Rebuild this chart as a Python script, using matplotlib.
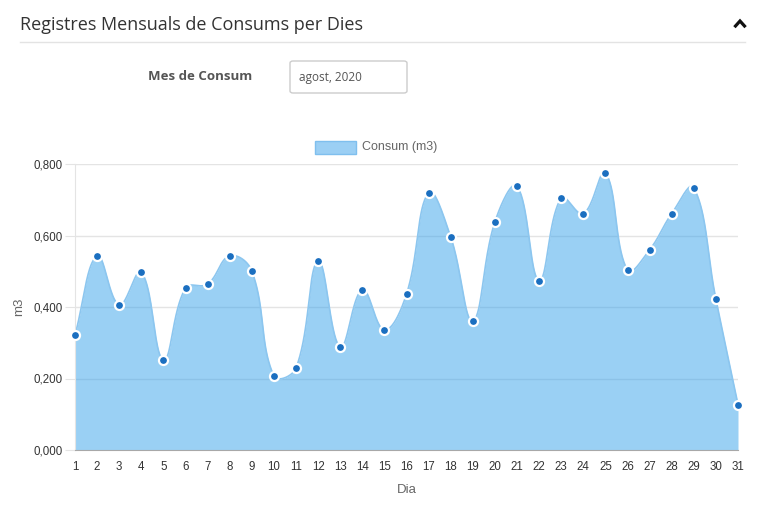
import numpy as np
import matplotlib.pyplot as plt
from matplotlib.patches import FancyBboxPatch, Rectangle
from matplotlib.lines import Line2D

# dades llegides del gràfic
dies = list(range(1, 32))
consum = [0.322, 0.543, 0.406, 0.498, 0.252, 0.453, 0.464, 0.543, 0.501, 0.207,
          0.229, 0.529, 0.288, 0.448, 0.336, 0.436, 0.720, 0.596, 0.361, 0.638,
          0.738, 0.474, 0.705, 0.661, 0.775, 0.503, 0.560, 0.661, 0.734, 0.422,
          0.127]
yticks = [0.0, 0.2, 0.4, 0.6, 0.8]
ytick_labels = ["0,000", "0,200", "0,400", "0,600", "0,800"]

W, H = 770, 513
fig = plt.figure(figsize=(W / 100, H / 100), dpi=100)

def px(x, y):
    return x / W, 1 - y / H

# capçalera
fig.text(*px(20, 25), "Registres Mensuals de Consums per Dies", family="Open Sans",
         fontsize=13, color="#333333", va="center", ha="left")
# fletxa de plegar
fig.add_artist(Line2D([735.5 / W, 740 / W, 744.5 / W], [1 - 26 / H, 1 - 21 / H, 1 - 26 / H],
                      color="#111111", lw=2.3, solid_joinstyle="miter"))
fig.add_artist(Line2D([20 / W, 745 / W], [1 - 42 / H] * 2, color="#e3e3e3", lw=1))
fig.text(*px(252, 76), "Mes de Consum", family="Open Sans", fontsize=9.5, weight="bold",
         color="#555555", va="center", ha="right")
fig.add_artist(FancyBboxPatch((290 / W, 1 - 93 / H), 117 / W, 32 / H,
                              boxstyle="round,pad=0,rounding_size=0.004",
                              transform=fig.transFigure, fc="white", ec="#cccccc", lw=1))
fig.text(*px(299, 78), "agost, 2020", family="Open Sans", fontsize=8.5,
         color="#555555", va="center", ha="left")

# llegenda
fig.add_artist(Rectangle((315 / W, 1 - 154 / H), 41 / W, 13 / H, transform=fig.transFigure,
                         fc="#9bcff4", ec="#7fbfee", lw=1))
fig.text(*px(362, 147), "Consum (m3)", family="Liberation Sans", fontsize=9,
         color="#666666", va="center", ha="left")

x0, x1, ytop, ybot = 75, 738, 164, 450
ax = fig.add_axes([x0 / W, 1 - ybot / H, (x1 - x0) / W, (ybot - ytop) / H])

# corba suavitzada (tensió 0.4, com Chart.js)
sx = (x1 - x0) / 30.0
sy = (ybot - ytop) / 0.8
P = np.column_stack([np.array(dies) * sx, np.array(consum) * sy])
t = 0.4
n = len(P)
cp_prev = P.copy()
cp_next = P.copy()
for i in range(n):
    p0 = P[max(i - 1, 0)]
    p1 = P[i]
    p2 = P[min(i + 1, n - 1)]
    d01 = np.hypot(*(p1 - p0))
    d12 = np.hypot(*(p2 - p1))
    tot = d01 + d12
    s01 = d01 / tot if tot else 0
    s12 = d12 / tot if tot else 0
    cp_prev[i] = p1 - t * s01 * (p2 - p0)
    cp_next[i] = p1 + t * s12 * (p2 - p0)
cp_prev[:, 1] = np.clip(cp_prev[:, 1], 0, 0.8 * sy)
cp_next[:, 1] = np.clip(cp_next[:, 1], 0, 0.8 * sy)

u = np.linspace(0, 1, 40)[:, None]
curve = [P[:1]]
for i in range(n - 1):
    a, b, c, d = P[i], cp_next[i], cp_prev[i + 1], P[i + 1]
    seg = (1 - u) ** 3 * a + 3 * (1 - u) ** 2 * u * b + 3 * (1 - u) * u ** 2 * c + u ** 3 * d
    curve.append(seg[1:])
curve = np.vstack(curve)
cx = curve[:, 0] / sx
cy = curve[:, 1] / sy

for yv in yticks[1:]:
    ax.axhline(yv, color="#e4e4e4", lw=1, zorder=0)
ax.fill_between(cx, 0, cy, color="#36a2eb", alpha=0.5, lw=0, zorder=1)
ax.plot(cx, cy, color="#8cc6ef", lw=1.2, zorder=2)
ax.plot(dies, consum, "o", ms=6.5, mfc="#1b6fc0", mec="white", mew=1.6,
        zorder=3, clip_on=False)

ax.set_xlim(1, 31)
ax.set_ylim(0, 0.8)
ax.set_xticks(dies)
ax.set_xticklabels([str(d) for d in dies])
ax.set_yticks(yticks)
ax.set_yticklabels(ytick_labels)
for lbl in ax.get_xticklabels() + ax.get_yticklabels():
    lbl.set_family("Liberation Sans")
    lbl.set_fontsize(8.3)
    lbl.set_color("#333333")
ax.tick_params(axis="x", length=0, pad=8)
ax.tick_params(axis="y", length=7, color="#e4e4e4", pad=2)
for s in ["top", "right"]:
    ax.spines[s].set_visible(False)
ax.spines["left"].set_color("#e4e4e4")
ax.spines["bottom"].set_color("#a8a8a8")
ax.set_xlabel("Dia", family="Liberation Sans", fontsize=9.5, color="#666666", labelpad=8)
ax.set_ylabel("m3", family="Liberation Sans", fontsize=9.5, color="#666666", labelpad=6)

fig.savefig("out.png", dpi=100)
